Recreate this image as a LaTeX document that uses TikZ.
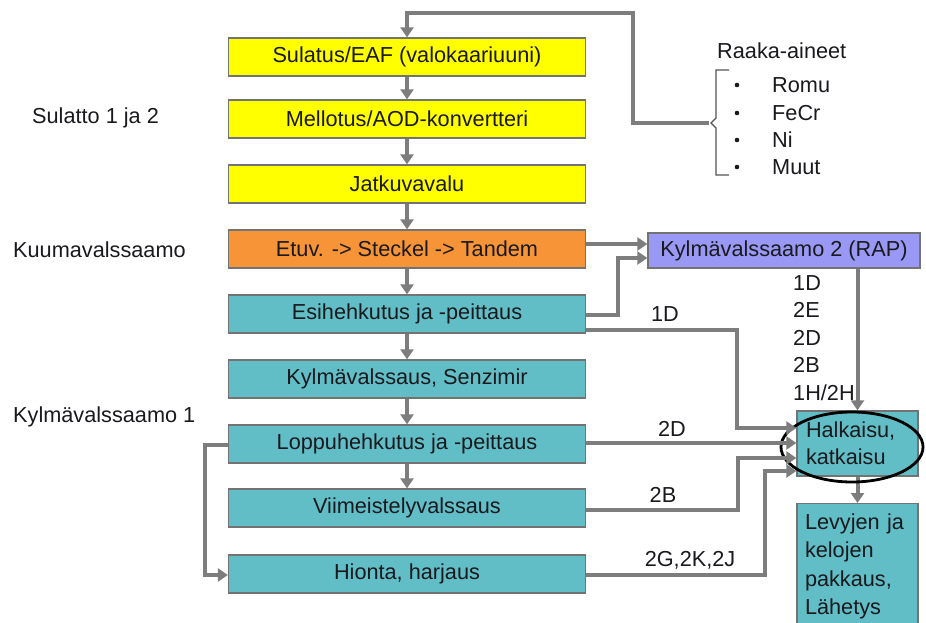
\documentclass[tikz,border=0pt]{standalone}
\usepackage{fontspec}
\setmainfont{Liberation Sans}
\usetikzlibrary{arrows.meta,shapes.geometric}
\definecolor{yel}{RGB}{255,255,0}
\definecolor{ora}{RGB}{248,148,56}
\definecolor{tealbox}{RGB}{98,190,198}
\definecolor{lav}{RGB}{153,153,245}
\definecolor{flowgray}{RGB}{125,125,125}
\definecolor{ink}{RGB}{25,25,30}
\begin{document}
\begin{tikzpicture}[x=1bp,y=-1bp,
  txt/.style={font=\fontsize{21.7bp}{26bp}\selectfont, text=ink, inner sep=0pt},
  proc/.style={txt, draw=black!55, line width=1.3bp, minimum width=357bp, minimum height=38bp},
  flow/.style={draw=flowgray, line width=4bp, -{Triangle[length=10bp,width=13bp]}},
]
\useasboundingbox (0,0) rectangle (926,623);

% main process chain
\node[proc, fill=yel]     (s1)  at (407,57)  {Sulatus/EAF (valokaariuuni)};
\node[proc, fill=yel]     (s2)  at (407,119) {Mellotus/AOD-konvertteri};
\node[proc, fill=yel]     (s3)  at (407,184) {Jatkuvavalu};
\node[proc, fill=ora]     (hot) at (407,249) {Etuv. -> Steckel -> Tandem};
\node[proc, fill=tealbox] (esi) at (407,314) {Esihehkutus ja -peittaus};
\node[proc, fill=tealbox] (kyl) at (407,379) {Kylmävalssaus, Senzimir};
\node[proc, fill=tealbox] (lop) at (407,444) {Loppuhehkutus ja -peittaus};
\node[proc, fill=tealbox] (vii) at (407,508) {Viimeistelyvalssaus};
\node[proc, fill=tealbox] (hio) at (407,574) {Hionta, harjaus};

\foreach \a/\b in {s1/s2, s2/s3, s3/hot, hot/esi, esi/kyl, kyl/lop, lop/vii}
  \draw[flow] (\a.south) -- (\b.north);

% section labels on the left
\node[txt, anchor=west] (lsul) at (32,118) {Sulatto 1 ja 2};
\node[txt, anchor=west] (lkuu) at (13,250) {Kuumavalssaamo};
\node[txt, anchor=west] (lkyl) at (13,417) {Kylmävalssaamo 1};

% raw materials
\node[txt, anchor=west] (raw) at (717,51) {Raaka-aineet};
\foreach \y/\t/\n in {85/Romu/r1, 113/FeCr/r2, 140/Ni/r3, 167/Muut/r4}{
  \fill[ink] (737,\y) circle (2.3bp);
  \node[txt, anchor=west] (\n) at (772,\y) {\t};
}
\draw[ink!75, line width=1.3bp] (729,70) -- (716,70) -- (716,118) -- (711,123) -- (716,128) -- (716,175) -- (729,175);
\coordinate (rtip) at (709,123);
\draw[flow] (rtip) -- (633,123) -- (633,13) -| (s1.north);

% second cold rolling mill
\node[txt, draw=black!55, line width=1.3bp, fill=lav, minimum width=272bp, minimum height=35bp]
  (rap) at (784,250.5) {Kylmävalssaamo 2 (RAP)};
\draw[flow] (hot.east |- 0,244) -- (rap.west |- 0,244);
\draw[flow] (esi.east |- 0,315) -- (618,315) |- (rap.west |- 0,258);

% slitting and packing
\node[txt, draw=black!55, line width=1.3bp, fill=tealbox, minimum width=121bp, minimum height=65bp,
  align=left, text width=103bp, font=\fontsize{21.7bp}{27bp}\selectfont]
  (hal) at (857.5,443.5) {Halkaisu,\\katkaisu};
\node[txt, draw=black!55, line width=1.3bp, fill=tealbox, minimum width=121bp, minimum height=125bp,
  align=left, text width=105bp, anchor=north, font=\fontsize{21.7bp}{28.5bp}\selectfont]
  (lev) at (857.5,503) {Levyjen ja\\kelojen\\pakkaus,\\Lähetys};
\draw[flow] (hal.south) -- (lev.north);
\draw[flow] (hal.north |- rap.south) -- (hal.north);
\node[txt, anchor=west, align=left, font=\fontsize{21.7bp}{27.5bp}\selectfont]
  (grades) at (793,338) {1D\\2E\\2D\\2B\\1H/2H};
\node[draw=black, line width=2.8bp, ellipse, minimum width=142bp, minimum height=70bp, inner sep=0pt]
  (ring) at (852,447) {};

% product lines into slitting
\draw[flow] (esi.east |- 0,330) -- (737,330) -- (737,428) -- (hal.west |- 0,428);
\node[txt] (l1d) at (665,314) {1D};
\draw[flow] (lop.east |- 0,443) -- (hal.west |- 0,443);
\node[txt] (l2d) at (672,429) {2D};
\draw[flow] (vii.east |- 0,510) -- (738,510) -- (738,458) -- (hal.west |- 0,458);
\node[txt] (l2b) at (663,495) {2B};
\draw[flow] (hio.east |- 0,575) -- (765,575) -- (765,471) -- (hal.west |- 0,471);
\node[txt] (l2g) at (690,560) {2G,2K,2J};

% bypass to grinding
\draw[flow] (lop.west |- 0,445) -- (205,445) -- (205,575) -- (hio.west |- 0,575);
\end{tikzpicture}
\end{document}
